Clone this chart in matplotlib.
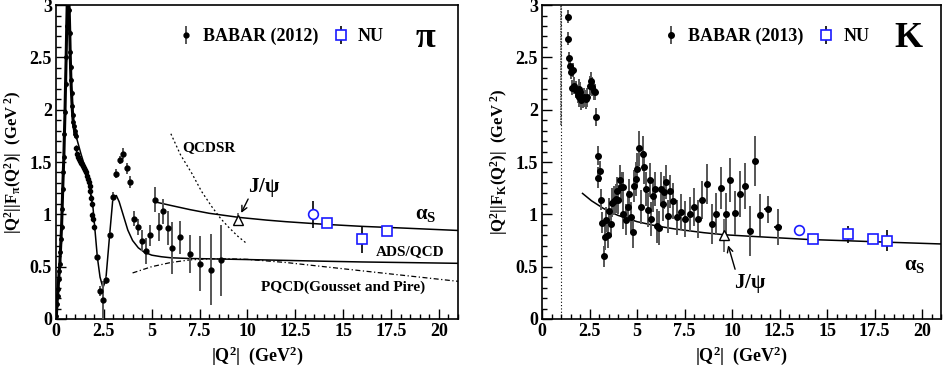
import numpy as np
import matplotlib
matplotlib.use('Agg')
import matplotlib.pyplot as plt
from matplotlib.ticker import MultipleLocator, FormatStrFormatter

plt.rcParams['font.family'] = ['Liberation Serif', 'DejaVu Serif']
plt.rcParams['font.weight'] = 'bold'
plt.rcParams['axes.labelweight'] = 'bold'
plt.rcParams['mathtext.fontset'] = 'custom'
plt.rcParams['mathtext.rm'] = 'Liberation Serif:bold'
plt.rcParams['mathtext.bf'] = 'Liberation Serif:bold'
plt.rcParams['mathtext.it'] = 'Liberation Serif:bold:italic'
plt.rcParams['mathtext.default'] = 'rm'

# ---------------- pion panel data ----------------
# dense BABAR points around the rho peak
pi_dense_x = [0.02, 0.05, 0.08, 0.11, 0.14, 0.17, 0.20, 0.23, 0.26, 0.29, 0.32, 0.35, 0.38,
              0.41, 0.44, 0.47, 0.50, 0.53, 0.56, 0.59, 0.62, 0.66, 0.69, 0.72, 0.74, 0.76,
              0.78, 0.81, 0.84, 0.87, 0.90, 0.93, 0.97, 1.00, 1.03]
pi_dense_y = [0.03, 0.14, 0.22, 0.29, 0.38, 0.46, 0.53, 0.64, 0.76, 0.88, 1.05, 1.24, 1.40,
              1.55, 1.77, 1.98, 2.25, 2.50, 2.80, 3.05, 3.20, 3.10, 2.95, 2.73, 2.55, 2.41,
              2.28, 2.16, 2.04, 1.95, 1.88, 1.84, 1.80, 1.77, 1.75]
pi_band_x = [1.05, 1.10, 1.15, 1.20, 1.25, 1.30, 1.35, 1.40, 1.45, 1.50, 1.55, 1.60, 1.65,
             1.70, 1.75, 1.80, 1.84, 1.88, 1.90, 1.94, 2.00]
pi_band_y = [1.63, 1.58, 1.55, 1.53, 1.51, 1.49, 1.48, 1.46, 1.44, 1.42, 1.40, 1.37, 1.34,
             1.31, 1.27, 1.22, 1.16, 1.10, 0.99, 0.96, 0.88]

pi_x = [2.16, 2.31, 2.45, 2.62, 2.80, 2.97, 3.14, 3.32, 3.49, 3.70, 3.87, 4.06, 4.27, 4.49,
        4.70, 4.92, 5.16, 5.39, 5.61, 5.84, 6.08, 6.46, 7.00, 7.53, 8.10, 8.64]
pi_y = [0.59, 0.27, 0.18, 0.37, 0.80, 1.17, 1.39, 1.52, 1.58, 1.44, 1.31, 0.96, 0.88, 0.75,
        0.65, 0.80, 1.14, 0.88, 1.03, 0.87, 0.68, 0.78, 0.62, 0.53, 0.47, 0.56]
pi_err = [0.03, 0.05, 0.18, 0.04, 0.03, 0.04, 0.04, 0.04, 0.05, 0.05, 0.06, 0.07, 0.08, 0.10,
          0.12, 0.10, 0.12, 0.13, 0.12, 0.16, 0.25, 0.16, 0.18, 0.26, 0.34, 0.34]

pi_nu_circ = (13.4, 1.00, 0.13)
pi_nu_x = [14.17, 15.98, 17.27]
pi_nu_y = [0.92, 0.76, 0.84]
pi_nu_err = [0.02, 0.13, 0.02]
pi_nu_xerr = [0.0, 0.2, 0.0]
pi_jpsi = (9.49, 0.95, 0.06)

# theory curves (pion)
ads_x = [1.0, 1.3, 1.6, 1.93, 2.05, 2.16, 2.3, 2.45, 2.6, 2.8, 2.97, 3.15, 3.3, 3.5, 3.75,
         4.0, 4.3, 4.6, 5.0, 5.5, 6.0, 7.0, 8.0, 10.0, 12.0, 14.0, 16.0, 18.0, 21.0]
ads_y = [1.78, 1.58, 1.40, 1.07, 0.82, 0.59, 0.40, 0.30, 0.37, 0.80, 1.15, 1.18, 1.12, 1.00,
         0.85, 0.75, 0.68, 0.64, 0.61, 0.595, 0.585, 0.578, 0.575, 0.568, 0.56, 0.552, 0.545,
         0.54, 0.532]
pi_as_x = [5.15, 6.0, 7.0, 8.0, 9.6, 11.0, 12.0, 14.0, 16.0, 18.0, 21.0]
pi_as_y = [1.12, 1.085, 1.045, 1.01, 0.97, 0.945, 0.93, 0.905, 0.885, 0.87, 0.846]
qcdsr_x = [6.0, 6.5, 7.1, 7.6, 8.15, 8.6, 9.0, 9.5, 9.97]
qcdsr_y = [1.77, 1.57, 1.39, 1.22, 1.07, 0.96, 0.88, 0.79, 0.72]
pqcd_x = [4.0, 5.0, 6.0, 7.0, 8.0, 9.0, 10.0, 12.0, 14.0, 16.0, 18.0, 21.0]
pqcd_y = [0.44, 0.50, 0.54, 0.565, 0.575, 0.575, 0.57, 0.54, 0.50, 0.46, 0.42, 0.36]

# ---------------- kaon panel data ----------------
k_x = [1.35, 1.37, 1.40, 1.46, 1.51, 1.58, 1.61, 1.70, 1.79, 1.87, 1.93, 1.96, 2.01, 2.05,
       2.13, 2.22, 2.31, 2.39, 2.50, 2.57, 2.62, 2.71, 2.76, 2.83, 2.92, 2.95, 3.04, 3.11,
       3.16, 3.25, 3.32, 3.39, 3.46, 3.52, 3.61, 3.67, 3.77, 3.87, 3.93, 3.98, 4.08, 4.17,
       4.25, 4.27, 4.41, 4.50, 4.58, 4.67, 4.76, 4.84, 4.93, 5.00, 5.09, 5.19, 5.30, 5.38,
       5.47, 5.56, 5.66, 5.75, 5.86, 5.96, 6.06, 6.15, 6.24, 6.34, 6.44, 6.53, 6.64, 6.74,
       6.91, 7.12, 7.33, 7.54, 7.76, 7.99, 8.22, 8.44, 8.69, 8.93, 9.17, 9.40, 9.66, 9.89,
       10.15, 10.41, 10.67, 10.93, 11.20, 11.47, 11.88, 12.42]
k_y = [2.89, 2.68, 2.49, 2.42, 2.36, 2.21, 2.38, 2.23, 2.19, 2.14, 2.20, 2.12, 2.17, 2.09,
       2.11, 2.12, 2.10, 2.12, 2.23, 2.27, 2.22, 2.18, 2.17, 1.93, 1.56, 1.35, 1.41, 1.14,
       0.92, 0.60, 0.78, 0.95, 0.80, 1.03, 0.91, 1.11, 1.13, 1.15, 1.22, 1.14, 1.33, 1.26,
       1.00, 1.26, 0.95, 1.07, 1.19, 0.97, 0.83, 1.27, 1.34, 1.43, 1.63, 1.07, 1.58, 1.45,
       1.24, 1.04, 1.33, 0.955, 1.18, 1.24, 0.89, 0.87, 1.24, 1.10, 1.21, 1.31, 0.98, 1.22,
       1.13, 0.97, 1.02, 0.955, 1.00, 1.07, 0.955, 1.14, 1.29, 0.91, 1.00, 1.25, 1.00, 1.33,
       1.01, 1.19, 1.27, 0.84, 1.51, 0.99, 1.05, 0.88]
k_err = [0.06, 0.06, 0.06, 0.06, 0.07, 0.07, 0.07, 0.08, 0.08, 0.08, 0.09, 0.09, 0.09, 0.09,
         0.09, 0.09, 0.09, 0.09, 0.09, 0.09, 0.09, 0.09, 0.08, 0.09, 0.09, 0.10, 0.10, 0.10,
         0.10, 0.10, 0.12, 0.12, 0.12, 0.13, 0.13, 0.14, 0.14, 0.14, 0.14, 0.14, 0.14, 0.14,
         0.14, 0.14, 0.15, 0.15, 0.15, 0.15, 0.15, 0.15, 0.16, 0.16, 0.17, 0.16, 0.17, 0.16,
         0.16, 0.16, 0.16, 0.16, 0.16, 0.16, 0.16, 0.16, 0.16, 0.16, 0.16, 0.16, 0.16, 0.16,
         0.17, 0.17, 0.17, 0.17, 0.17, 0.18, 0.18, 0.18, 0.19, 0.19, 0.20, 0.20, 0.20, 0.21,
         0.21, 0.22, 0.22, 0.24, 0.24, 0.20, 0.13, 0.17]
k_xerr = [0.0] * 90 + [0.2, 0.2]

k_nu_circ = (13.52, 0.85, 0.05)
k_nu_x = [14.28, 16.10, 17.43, 18.17]
k_nu_y = [0.764, 0.81, 0.764, 0.748]
k_nu_err = [0.02, 0.08, 0.03, 0.10]
k_nu_xerr = [0.0, 0.25, 0.0, 0.0]
k_jpsi = (9.60, 0.80, 0.16)
k_threshold = 0.975

k_as_x = [2.13, 2.6, 3.2, 3.5, 4.0, 5.0, 6.0, 7.0, 8.5, 9.6, 11.0, 12.5, 14.0, 16.0, 18.0, 21.0]
k_as_y = [1.20, 1.13, 1.06, 1.03, 0.99, 0.93, 0.89, 0.86, 0.825, 0.805, 0.79, 0.775, 0.76,
          0.748, 0.735, 0.717]

BAR = '#555555'
BLUE = '#1a1aff'

fig = plt.figure(figsize=(9.46, 3.76), dpi=100)
axL = fig.add_axes([0.0592, 0.1516, 0.425, 0.835])
axR = fig.add_axes([0.573, 0.1516, 0.4218, 0.835])


def style_axes(ax, ylab):
    ax.set_xlim(0, 21)
    ax.set_ylim(0, 3)
    ax.xaxis.set_major_locator(MultipleLocator(2.5))
    ax.xaxis.set_minor_locator(MultipleLocator(0.5))
    ax.yaxis.set_major_locator(MultipleLocator(0.5))
    ax.yaxis.set_minor_locator(MultipleLocator(0.1))
    ax.xaxis.set_major_formatter(FormatStrFormatter('%g'))
    ax.yaxis.set_major_formatter(FormatStrFormatter('%g'))
    ax.tick_params(which='both', direction='in', top=False, right=False, labelsize=13, pad=3)
    ax.tick_params(which='major', length=7, width=1)
    ax.tick_params(which='minor', length=3.5, width=1)
    for s in ax.spines.values():
        s.set_linewidth(1.2)
    ax.set_xlabel(r'$|Q^2|$  (GeV$^2$)', fontsize=13, labelpad=3)
    ax.set_ylabel(ylab, fontsize=12, labelpad=4)


# ---------------- left: pion ----------------
axL.plot(pi_dense_x, pi_dense_y, color='k', lw=2.2, zorder=3)
axL.errorbar(pi_dense_x, pi_dense_y, yerr=0.03, fmt='o', ms=2.5, color='k', ecolor='k',
             elinewidth=1, capsize=0, zorder=3)
axL.errorbar(pi_band_x, pi_band_y, yerr=0.03, fmt='o', ms=3, color='k', ecolor='k',
             elinewidth=1, capsize=0, zorder=3)
babar = axL.errorbar(pi_x, pi_y, yerr=pi_err, fmt='o', ms=3.5, color='k', ecolor=BAR,
                     elinewidth=1.4, capsize=0, zorder=4)
axL.plot(ads_x, ads_y, color='k', lw=1.1)
axL.plot(pi_as_x, pi_as_y, color='k', lw=1.1)
axL.plot(qcdsr_x, qcdsr_y, color='k', lw=0.9, ls=(0, (1.5, 2)))
axL.plot(pqcd_x, pqcd_y, color='k', lw=0.9, ls=(0, (4, 2, 1, 2)))
axL.errorbar([pi_nu_circ[0]], [pi_nu_circ[1]], yerr=[pi_nu_circ[2]], fmt='o', ms=7, mfc='white',
             mec=BLUE, mew=1.2, ecolor='k', elinewidth=1.2, capsize=0, zorder=5)
axL.errorbar(pi_nu_x, pi_nu_y, xerr=pi_nu_xerr, fmt='none', ecolor='k', elinewidth=1.2,
             capsize=0, zorder=4)
nu = axL.errorbar(pi_nu_x, pi_nu_y, yerr=pi_nu_err, fmt='s', ms=6.5,
                  mfc='white', mec=BLUE, mew=1.2, ecolor='k', elinewidth=1.2, capsize=0,
                  zorder=5)
axL.errorbar([pi_jpsi[0]], [pi_jpsi[1]], yerr=[pi_jpsi[2]], fmt='^', ms=7, mfc='white',
             mec='k', mew=1, ecolor=BAR, elinewidth=1.2, capsize=0, zorder=5)
axL.annotate('', xy=(pi_jpsi[0] + 0.12, pi_jpsi[1] + 0.04), xytext=(10.1, 1.17),
             arrowprops=dict(arrowstyle='->', color='k', lw=1))
axL.text(10.85, 1.26, r'J/$\psi$', fontsize=15, ha='center', va='center')
axL.text(8.0, 1.64, 'QCDSR', fontsize=11, ha='center', va='center')
axL.text(19.3, 1.0, r'$\alpha_{\mathrm{S}}$', fontsize=15, ha='center', va='center')
axL.text(18.5, 0.64, 'ADS/QCD', fontsize=11, ha='center', va='center')
axL.text(15.0, 0.30, 'PQCD(Gousset and Pire)', fontsize=11, ha='center', va='center')
axL.text(19.3, 2.68, 'π', fontsize=26, ha='center', va='center')
axL.legend([babar, nu], ['BABAR (2012)', 'NU'], ncol=2, loc='center left',
           bbox_to_anchor=(0.28, 0.9), frameon=False, fontsize=13, handlelength=0.9,
           handletextpad=0.5, columnspacing=0.8, borderpad=0)
style_axes(axL, r'$|Q^2||F_\pi(Q^2)|$  (GeV$^{\ 2}$)')

# ---------------- right: kaon ----------------
axR.axvline(k_threshold, ymin=0, ymax=1, color='k', lw=0.8, ls=(0, (1, 2)))
axR.axvline(k_threshold, ymin=1.85 / 3, ymax=1, color='#444444', lw=1.2, ls=(0, (1, 0.5)))
axR.errorbar(k_x, k_y, xerr=k_xerr, fmt='none', ecolor='k', elinewidth=1.2, capsize=0,
             zorder=4)
babk = axR.errorbar(k_x, k_y, yerr=k_err, fmt='o', ms=4, color='k', ecolor=BAR,
                    elinewidth=1.4, capsize=0, zorder=4)
axR.plot(k_as_x, k_as_y, color='k', lw=1.1)
axR.errorbar([k_nu_circ[0]], [k_nu_circ[1]], yerr=[k_nu_circ[2]], fmt='o', ms=7, mfc='white',
             mec=BLUE, mew=1.2, ecolor='k', elinewidth=1.2, capsize=0, zorder=5)
axR.errorbar(k_nu_x, k_nu_y, xerr=k_nu_xerr, fmt='none', ecolor='k', elinewidth=1.2,
             capsize=0, zorder=4)
nuk = axR.errorbar(k_nu_x, k_nu_y, yerr=k_nu_err, fmt='s', ms=6.5,
                   mfc='white', mec=BLUE, mew=1.2, ecolor='k', elinewidth=1.2, capsize=0,
                   zorder=5)
axR.errorbar([k_jpsi[0]], [k_jpsi[1]], yerr=[k_jpsi[2]], fmt='^', ms=7, mfc='white',
             mec='k', mew=1, ecolor=BAR, elinewidth=1.2, capsize=0, zorder=5)
axR.annotate('', xy=(k_jpsi[0] + 0.15, k_jpsi[1] - 0.07), xytext=(10.2, 0.45),
             arrowprops=dict(arrowstyle='->', color='k', lw=1))
axR.text(10.95, 0.34, r'J/$\psi$', fontsize=15, ha='center', va='center')
axR.text(19.6, 0.52, r'$\alpha_{\mathrm{S}}$', fontsize=15, ha='center', va='center')
axR.text(19.3, 2.68, 'K', fontsize=26, ha='center', va='center')
axR.legend([babk, nuk], ['BABAR (2013)', 'NU'], ncol=2, loc='center left',
           bbox_to_anchor=(0.28, 0.9), frameon=False, fontsize=13, handlelength=0.9,
           handletextpad=0.5, columnspacing=0.8, borderpad=0)
style_axes(axR, r'$|Q^2||F_K(Q^2)|$  (GeV$^{\ 2}$)')

fig.savefig('out.png', dpi=100)
